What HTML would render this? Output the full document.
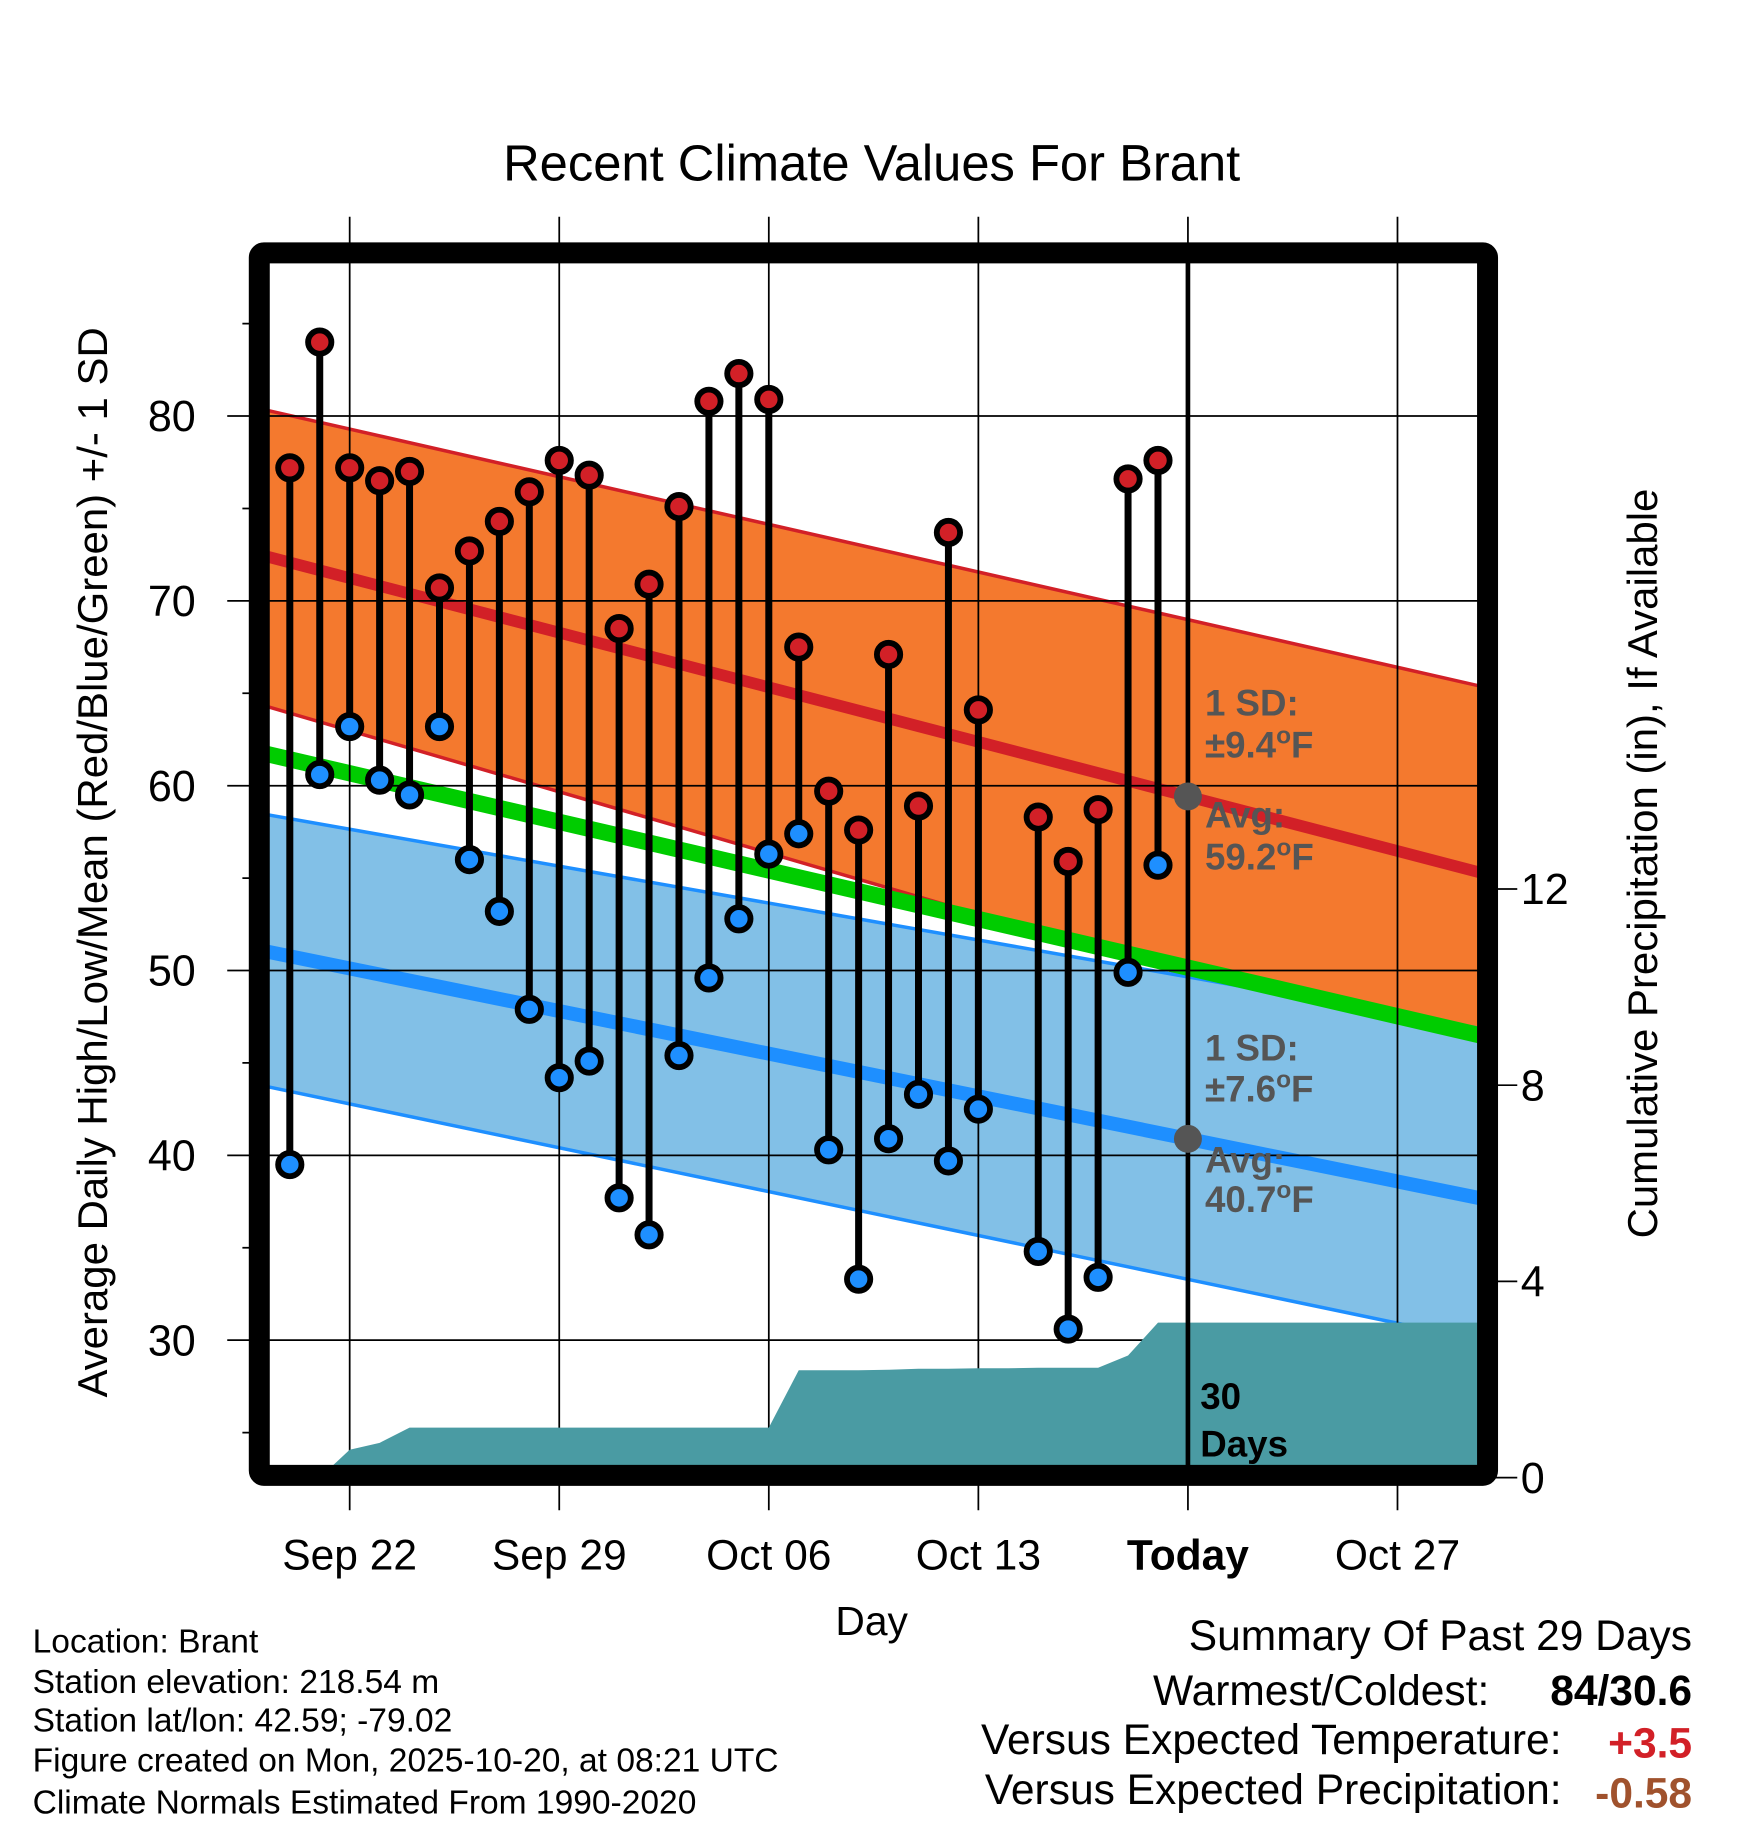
<!DOCTYPE html>
<html><head><meta charset="utf-8"><style>
html,body{margin:0;padding:0;background:#fff;}
svg{display:block;font-family:"Liberation Sans",Arial,sans-serif;}
</style></head><body>
<svg id="chart" width="1748" height="1828" viewBox="0 0 1500 1568.6" xmlns="http://www.w3.org/2000/svg">
<defs><clipPath id="plotclip"><rect x="231" y="224" width="1037" height="1035"/></clipPath></defs>
<text x="748" y="155" font-size="43.5" text-anchor="middle">Recent Climate Values For Brant</text>
<g id="bands" clip-path="url(#plotclip)"></g>
<g id="grid"></g>
<g id="precip" clip-path="url(#plotclip)"></g>
<g id="marks"></g>
<g id="annot"></g>
<rect x="222.5" y="217" width="1054" height="1049" fill="none" stroke="#000" stroke-width="18" rx="4"/>
<text transform="translate(92,740) rotate(-90)" font-size="36" text-anchor="middle">Average Daily High/Low/Mean (Red/Blue/Green) +/- 1 SD</text>
<text transform="translate(1422,741) rotate(-90)" font-size="36" text-anchor="middle">Cumulative Precipitation (in), If Available</text>
<text x="748" y="1403" font-size="35" text-anchor="middle">Day</text>
<g font-size="28.8">
<text x="28" y="1418">Location: Brant</text>
<text x="28" y="1453">Station elevation: 218.54 m</text>
<text x="28" y="1486">Station lat/lon: 42.59; -79.02</text>
<text x="28" y="1520">Figure created on Mon, 2025-10-20, at 08:21 UTC</text>
<text x="28" y="1556">Climate Normals Estimated From 1990-2020</text>
</g>
<g font-size="36.5" text-anchor="end">
<text x="1452" y="1416">Summary Of Past 29 Days</text>
<text x="1278" y="1463">Warmest/Coldest:</text>
<text x="1452" y="1463" font-weight="bold">84/30.6</text>
<text x="1340" y="1505">Versus Expected Temperature:</text>
<text x="1452" y="1508" font-weight="bold" fill="#d22027">+3.5</text>
<text x="1340" y="1548">Versus Expected Precipitation:</text>
<text x="1452" y="1551" font-weight="bold" fill="#a0522d">-0.58</text>
</g>
</svg>
<script>
// Data
const dayLabels = ["Sep 20","Sep 21","Sep 22","Sep 23","Sep 24","Sep 25","Sep 26","Sep 27","Sep 28","Sep 29","Sep 30","Oct 01","Oct 02","Oct 03","Oct 04","Oct 05","Oct 06","Oct 07","Oct 08","Oct 09","Oct 10","Oct 11","Oct 12","Oct 13","Oct 14","Oct 15","Oct 16","Oct 17","Oct 18","Oct 19"];
const highs = [77.2,84,77.2,76.5,77.0,70.7,72.7,74.3,75.9,77.6,76.8,68.5,70.9,75.1,80.8,82.3,80.9,67.5,59.7,57.6,67.1,58.9,73.7,64.1,null,58.3,55.9,58.7,76.6,77.6];
const lows = [39.5,60.6,63.2,60.3,59.5,63.2,56.0,53.2,47.9,44.2,45.1,37.7,35.7,45.4,49.6,52.8,56.3,57.4,40.3,33.3,40.9,43.3,39.7,42.5,null,34.8,30.6,33.4,49.9,55.7];
const precipCum = [0,0,0.57,0.71,1.02,1.02,1.02,1.02,1.02,1.02,1.02,1.02,1.02,1.02,1.02,1.02,1.02,2.19,2.19,2.19,2.20,2.22,2.22,2.23,2.23,2.24,2.24,2.24,2.49,3.16];
// normals at domain edges (Sep 19, Oct 30)
const normHighAvg = [72.5,55.2];
const normHighUpper = [80.4,65.3];
const normHighLower = [64.4,45.0];
const normMean = [61.8,46.4];
const normLowAvg = [51.1,37.6];
const normLowUpper = [58.5,46.8];
const normLowLower = [43.8,29.9];
const xTickLabels = ["Sep 22","Sep 29","Oct 06","Oct 13","Today","Oct 27"];
const xTickDays = [3,10,17,24,31,38];
const yTicks = [30,40,50,60,70,80];
const y2Ticks = [0,4,8,12];

const NS="http://www.w3.org/2000/svg";
const X0=223, PXD=25.69, TODAY=31, NDAYS=41;
function x(d){return X0+PXD*d;}
function y(t){return 357+(80-t)*15.86;}
function yp(p){return 1268-p*42.1;}
function mk(tag,attrs,parent){const e=document.createElementNS(NS,tag);for(const k in attrs)e.setAttribute(k,attrs[k]);parent.appendChild(e);return e;}
const bands=document.getElementById('bands'),grid=document.getElementById('grid'),precip=document.getElementById('precip'),marks=document.getElementById('marks'),annot=document.getElementById('annot');

function band(up,lo,fill,edge,name){
  const p=`M${x(0)},${y(up[0])} L${x(NDAYS)},${y(up[1])} L${x(NDAYS)},${y(lo[1])} L${x(0)},${y(lo[0])} Z`;
  const e=mk('path',{d:p,fill:fill},bands);
  
  
  [up,lo].forEach(v=>{mk('line',{x1:x(0),y1:y(v[0]),x2:x(NDAYS),y2:y(v[1]),stroke:edge,'stroke-width':3},bands);});
}
function nline(v,col,w,name){
  const e=mk('line',{x1:x(0),y1:y(v[0]),x2:x(NDAYS),y2:y(v[1]),stroke:col,'stroke-width':w},bands);
  
  
}
band(normHighUpper,normHighLower,'#f4792e','#d22027','high-sd-band');
band(normLowUpper,normLowLower,'#82c0e7','#1e8fff','low-sd-band');
nline(normMean,'#00cc00',14,'normal-mean-line');
nline(normHighAvg,'#d22027',10,'normal-high-line');
nline(normLowAvg,'#1e8fff',12,'normal-low-line');

// grid
yTicks.forEach(t=>{
  mk('line',{x1:195,y1:y(t),x2:1268,y2:y(t),stroke:'#000','stroke-width':1.5},grid);
  const l=mk('text',{x:168,y:y(t)+13,'font-size':37,'text-anchor':'end'},grid);
  l.textContent=t;
  
  
});
for(let t=25;t<=85;t+=10){mk('line',{x1:208,y1:y(t),x2:222,y2:y(t),stroke:'#000','stroke-width':1.5},grid);}
y2Ticks.forEach(p=>{
  mk('line',{x1:1276,y1:yp(p),x2:1302,y2:yp(p),stroke:'#000','stroke-width':1.5},grid);
  const l=mk('text',{x:1305,y:yp(p)+13,'font-size':37},grid);
  l.textContent=p;
  
  
});
xTickDays.forEach((d,i)=>{
  mk('line',{x1:x(d),y1:186,x2:x(d),y2:1296,stroke:'#000','stroke-width':1.5},grid);
  const l=mk('text',{x:x(d),y:1347,'font-size':36.5,'text-anchor':'middle','font-weight':xTickLabels[i]==='Today'?'bold':'normal'},grid);
  l.textContent=xTickLabels[i];
  
  
});

// precip area
let pd=`M${x(0)},${yp(0)}`;
precipCum.forEach((v,i)=>{pd+=` L${x(i+1)},${yp(v)}`;});
pd+=` L${x(NDAYS)},${yp(precipCum[precipCum.length-1])} L${x(NDAYS)},${yp(0)} Z`;
const pa=mk('path',{d:pd,fill:'#4a9ba3'},precip);



// today line
const tl=mk('line',{x1:x(TODAY),y1:224,x2:x(TODAY),y2:1262,stroke:'#000','stroke-width':4},marks);



// stems & points
highs.forEach((h,i)=>{
  const lo=lows[i]; if(h==null||lo==null) return;
  const xx=x(i+1);
  const s=mk('line',{x1:xx,y1:y(h),x2:xx,y2:y(lo),stroke:'#000','stroke-width':6},marks);
  
  
  const c1=mk('circle',{cx:xx,cy:y(h),r:10,fill:'#d22027',stroke:'#000','stroke-width':5},marks);
  
  
  const c2=mk('circle',{cx:xx,cy:y(lo),r:10,fill:'#1e8fff',stroke:'#000','stroke-width':5},marks);
  
  
});
const g1=mk('circle',{cx:x(TODAY),cy:y(normHighAvg[0]+(normHighAvg[1]-normHighAvg[0])*TODAY/NDAYS),r:12,fill:'#555'},marks);


const g2=mk('circle',{cx:x(TODAY),cy:y(normLowAvg[0]+(normLowAvg[1]-normLowAvg[0])*TODAY/NDAYS),r:12,fill:'#555'},marks);



// annotations
function txt(s,xx,yy,fill,name){
  const e=mk('text',{x:xx,y:yy,'font-size':31.5,'font-weight':'bold',fill:fill},annot);
  e.innerHTML=s;
  
  
}
txt('1 SD:',1034,614,'#555','high-sd-label');
txt('±9.4<tspan dy="-12" font-size="21">o</tspan><tspan dy="12">F</tspan>',1034,650,'#555','high-sd-value');
txt('Avg:',1034,710,'#555','high-avg-label');
txt('59.2<tspan dy="-12" font-size="21">o</tspan><tspan dy="12">F</tspan>',1034,746,'#555','high-avg-value');
txt('1 SD:',1034,910,'#555','low-sd-label');
txt('±7.6<tspan dy="-12" font-size="21">o</tspan><tspan dy="12">F</tspan>',1034,945,'#555','low-sd-value');
txt('Avg:',1034,1006,'#555','low-avg-label');
txt('40.7<tspan dy="-12" font-size="21">o</tspan><tspan dy="12">F</tspan>',1034,1040,'#555','low-avg-value');
txt('30',1030,1209,'#000','window-days-number');
txt('Days',1030,1250,'#000','window-days-label');
</script>
</body></html>
